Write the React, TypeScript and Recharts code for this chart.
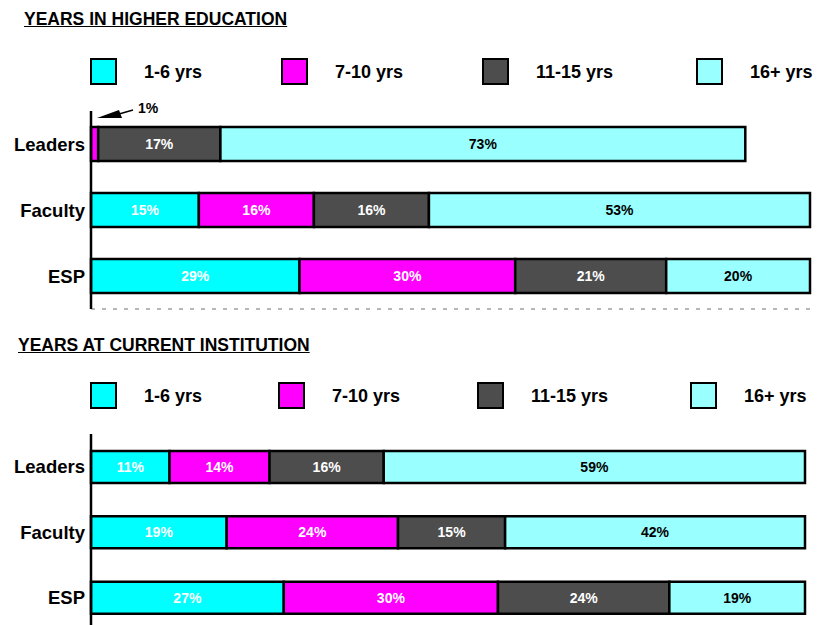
import { BarChart, Bar, XAxis, YAxis, Legend, LabelList } from "recharts";

const categories = ["Leaders", "Faculty", "ESP"];
const bandLabels = ["1-6 yrs", "7-10 yrs", "11-15 yrs", "16+ yrs"];
const bandKeys = ["y1to6", "y7to10", "y11to15", "y16plus"];

// years in higher education (%)
const hiEd1to6 = [0, 15, 29];
const hiEd7to10 = [1, 16, 30];
const hiEd11to15 = [17, 16, 21];
const hiEd16plus = [73, 53, 20];

// years at current institution (%)
const inst1to6 = [11, 19, 27];
const inst7to10 = [14, 24, 30];
const inst11to15 = [16, 15, 24];
const inst16plus = [59, 42, 19];

const FILLS = ["#00ffff", "#ff00ff", "#4d4d4d", "#99ffff"];
const LABEL_INK = ["#ffffff", "#ffffff", "#ffffff", "#000000"];
const FONT = "'Liberation Sans', Arial, sans-serif";

function buildRows(series: number[][]) {
  return categories.map((name, i) => {
    const row: Record<string, any> = { name };
    bandKeys.forEach((k, s) => (row[k] = series[s][i]));
    return row;
  });
}

const hiEdRows = buildRows([hiEd1to6, hiEd7to10, hiEd11to15, hiEd16plus]);
const instRows = buildRows([inst1to6, inst7to10, inst11to15, inst16plus]);

function makeLegend(lefts: number[]) {
  return () => (
    <div style={{ position: "relative", height: 0, fontFamily: FONT }}>
      {bandLabels.map((label, i) => (
        <div key={label}>
          <div
            style={{
              position: "absolute",
              left: lefts[i],
              top: 0,
              width: 23,
              height: 23,
              background: FILLS[i],
              border: "2.5px solid #000",
            }}
          />
          <div
            style={{
              position: "absolute",
              left: lefts[i] + 54,
              top: 1,
              fontSize: 18,
              fontWeight: 700,
              lineHeight: "26px",
              whiteSpace: "nowrap",
              color: "#000",
            }}
          >
            {label}
          </div>
        </div>
      ))}
    </div>
  );
}

function makeSegmentLabel(band: number, annotate: boolean) {
  return (props: any) => {
    const { x, y, width, height, value } = props;
    if (!value) return null;
    if (value < 3) {
      if (!annotate) return null;
      return (
        <g>
          <polygon
            points={`${x + 6},${y - 9} ${x + 28},${y - 17} ${x + 31},${y - 9}`}
            fill="#000"
          />
          <line x1={x + 28} y1={y - 13} x2={x + 42} y2={y - 17} stroke="#000" strokeWidth={1.5} />
          <text
            x={x + 47}
            y={y - 19}
            fontFamily={FONT}
            fontSize={14}
            fontWeight={700}
            fill="#000"
            dominantBaseline="central"
          >
            {value}%
          </text>
        </g>
      );
    }
    return (
      <text
        x={x + width / 2}
        y={y + height / 2}
        textAnchor="middle"
        dominantBaseline="central"
        fontFamily={FONT}
        fontSize={14}
        fontWeight={700}
        fill={LABEL_INK[band]}
      >
        {value}%
      </text>
    );
  };
}

interface PanelProps {
  title: string;
  top: number;
  titleLeft: number;
  rows: Record<string, any>[];
  height: number;
  margin: { top: number; right: number; bottom: number; left: number };
  barSize: number;
  legendTop: number;
  legendLefts: number[];
  dashedBase: boolean;
}

function Panel(p: PanelProps) {
  return (
    <div style={{ position: "absolute", left: 0, top: p.top, width: 825, height: p.height }}>
      <div
        style={{
          position: "absolute",
          left: p.titleLeft,
          top: 9,
          fontFamily: FONT,
          fontSize: 17.5,
          fontWeight: 700,
          textDecoration: "underline",
          whiteSpace: "nowrap",
          color: "#000",
        }}
      >
        {p.title}
      </div>
      <BarChart
        width={825}
        height={p.height}
        data={p.rows}
        layout="vertical"
        margin={p.margin}
        barSize={p.barSize}
        barCategoryGap={0}
      >
        <XAxis
          type="number"
          domain={[0, 100]}
          hide={!p.dashedBase}
          height={1}
          tick={false}
          tickLine={false}
          axisLine={{ stroke: "#a0a0a0", strokeDasharray: "4 7", strokeWidth: 1.5 }}
        />
        <YAxis
          type="category"
          dataKey="name"
          width={91}
          tickLine={false}
          tickSize={0}
          tickMargin={6}
          axisLine={{ stroke: "#000", strokeWidth: 2.5 }}
          tick={{ fontFamily: FONT, fontSize: 18.5, fontWeight: 700, fill: "#000" }}
        />
        <Legend
          verticalAlign="top"
          content={makeLegend(p.legendLefts)}
          wrapperStyle={{ top: p.legendTop, left: 0, width: 825, height: 0 }}
        />
        {bandKeys.map((k, i) => (
          <Bar
            key={k}
            dataKey={k}
            name={bandLabels[i]}
            stackId="s"
            fill={FILLS[i]}
            stroke="#000"
            strokeWidth={2.5}
            isAnimationActive={false}
          >
            <LabelList dataKey={k} content={makeSegmentLabel(i, p.dashedBase)} />
          </Bar>
        ))}
      </BarChart>
    </div>
  );
}

export default function App() {
  return (
    <div
      style={{
        position: "absolute",
        left: 0,
        top: 0,
        width: 825,
        height: 625,
        overflow: "hidden",
        background: "#fff",
      }}
    >
      <Panel
        title="YEARS IN HIGHER EDUCATION"
        top={0}
        titleLeft={24}
        rows={hiEdRows}
        height={320}
        margin={{ top: 111, right: 15, bottom: 10, left: 0 }}
        barSize={34}
        legendTop={58}
        legendLefts={[90, 281, 482, 696]}
        dashedBase={true}
      />
      <Panel
        title="YEARS AT CURRENT INSTITUTION"
        top={326}
        titleLeft={18}
        rows={instRows}
        height={310}
        margin={{ top: 108, right: 20, bottom: 6, left: 0 }}
        barSize={32}
        legendTop={56}
        legendLefts={[90, 278, 477, 690]}
        dashedBase={false}
      />
    </div>
  );
}
